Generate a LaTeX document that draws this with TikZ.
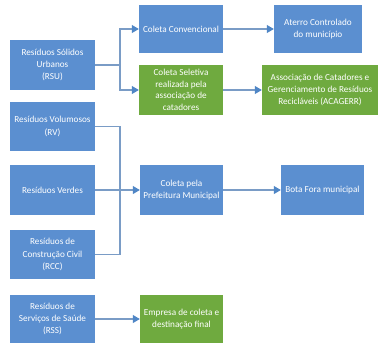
\documentclass[tikz,border=0pt]{standalone}
\usepackage{fontspec}
\setmainfont{Carlito}
\usetikzlibrary{arrows.meta}
\definecolor{bbox}{HTML}{5B8FD0}
\definecolor{gbox}{HTML}{6FAA3F}
\definecolor{lcol}{HTML}{7A9CC6}
\definecolor{acol}{HTML}{4F86C6}
\tikzset{
  x=1pt,y=1pt,
  box/.style={draw=none,fill=bbox,text=white,align=center,inner sep=1pt,
    font=\fontsize{9.2}{12.2}\selectfont},
  gbx/.style={box,fill=gbox},
  conn/.style={draw=lcol,line width=1.2pt},
  arr/.style={conn,-{Triangle[length=7pt,width=8pt,fill=acol,color=acol]}}
}
\begin{document}
\begin{tikzpicture}
\useasboundingbox (0,0) rectangle (378,-343);
\fill[white] (0,0) rectangle (378,-343);
\node[box,minimum width=85,minimum height=50] (rsu) at (52.5,-65) {Resíduos Sólidos\\Urbanos\\(RSU)};
\node[box,minimum width=85,minimum height=49] (rv) at (52.5,-126.5) {Resíduos Volumosos\\(RV)};
\node[box,minimum width=85,minimum height=50] (rve) at (52.5,-190) {Resíduos Verdes};
\node[box,minimum width=85,minimum height=49] (rcc) at (52.5,-254.5) {Resíduos de\\Construção Civil\\(RCC)};
\node[box,minimum width=85,minimum height=48] (rss) at (52.5,-319) {Resíduos de\\Serviços de Saúde\\(RSS)};
\node[box,minimum width=84,minimum height=48] (cc) at (181,-29) {Coleta Convencional};
\node[gbx,minimum width=84,minimum height=50,font=\fontsize{9.2}{11.6}\selectfont] (cs) at (181,-90) {Coleta Seletiva\\realizada pela\\associação de\\catadores};
\node[box,minimum width=83,minimum height=50] (cp) at (181.5,-190) {Coleta pela\\Prefeitura Municipal};
\node[gbx,minimum width=83,minimum height=48] (emp) at (181.5,-319) {Empresa de coleta e\\destinação final};
\node[box,minimum width=88,minimum height=48] (at) at (318,-29) {Aterro Controlado\\do município};
\node[gbx,minimum width=116,minimum height=50] (ac) at (320,-90) {Associação de Catadores e\\Gerenciamento de Resíduos\\Recicláveis (ACAGERR)};
\node[box,minimum width=83,minimum height=50] (bf) at (322.5,-190) {Bota Fora municipal};
\coordinate (ja) at (120,-65);
\coordinate (jb) at (120,-190);
\draw[conn] (rsu.east) -- (ja);
\draw[arr] (ja) |- (cc.west);
\draw[arr] (ja) |- (cs.west);
\draw[conn] (rv.east) -| (jb) |- (rcc.east);
\draw[arr] (rve.east) -- (cp.west);
\draw[arr] (cc.east) -- (at.west);
\draw[arr] (cs.east) -- (ac.west);
\draw[arr] (cp.east) -- (bf.west);
\draw[arr] (rss.east) -- (emp.west);
\end{tikzpicture}
\end{document}
